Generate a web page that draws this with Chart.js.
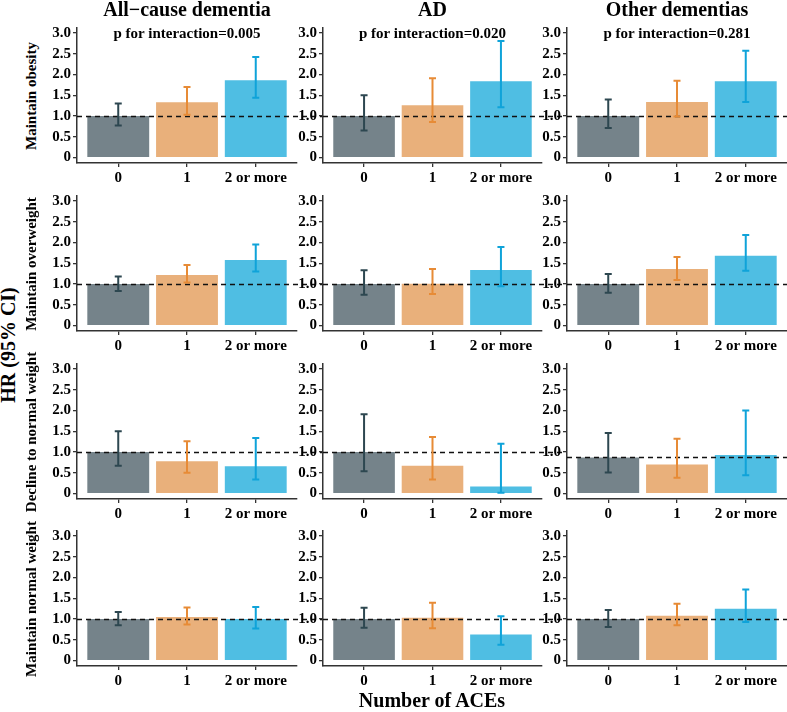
<!DOCTYPE html>
<html><head><meta charset="utf-8">
<script src="https://cdn.jsdelivr.net/npm/chart.js@4/dist/chart.umd.min.js"></script>
<style>
html,body{margin:0;padding:0;background:#fff;}
#fig{position:relative;width:787px;height:712px;overflow:hidden;font-family:"Liberation Serif","Times New Roman",serif;font-weight:bold;color:#000;}
.t{position:absolute;white-space:nowrap;transform:translate(-50%,-50%);line-height:1;}
.r{transform:translate(-50%,-50%) rotate(-90deg);}
canvas{position:absolute;}
</style></head><body><div id="fig"></div>
<script>
const categories = ['0','1','2 or more'];
const outcomes = ['All\u2212cause dementia','AD','Other dementias'];
const pLabels = ['p for interaction=0.005','p for interaction=0.020','p for interaction=0.281'];
const groups = ['Maintain obesity','Maintain overweight','Decline to normal weight','Maintain normal weight'];
const yTitle = 'HR (95% CI)';
const xTitle = 'Number of ACEs';
const yTicks = [0,0.5,1,1.5,2,2.5,3];
// each: one row per outcome (All-cause, AD, Other), one value per ACE category
const obesityHR = [[1.00,1.33,1.86],[1.00,1.26,1.84],[1.00,1.34,1.84]];
const obesityLo = [[0.77,1.03,1.44],[0.65,0.86,1.21],[0.71,0.99,1.34]];
const obesityHi = [[1.30,1.70,2.42],[1.50,1.91,2.81],[1.40,1.85,2.57]];
const overweightHR = [[1.00,1.22,1.58],[1.00,1.01,1.34],[1.00,1.36,1.68]];
const overweightLo = [[0.83,1.04,1.30],[0.74,0.76,0.95],[0.79,1.10,1.32]];
const overweightHi = [[1.18,1.46,1.95],[1.33,1.36,1.89],[1.24,1.65,2.18]];
const declineHR = [[1.00,0.78,0.66],[1.00,0.67,0.17],[0.87,0.70,0.93]];
const declineLo = [[0.67,0.50,0.34],[0.54,0.34,0.02],[0.51,0.38,0.44]];
const declineHi = [[1.50,1.26,1.34],[1.91,1.36,1.20],[1.46,1.32,2.00]];
const normalHR = [[1.00,1.05,1.00],[1.00,1.03,0.63],[1.00,1.08,1.25]];
const normalLo = [[0.85,0.87,0.77],[0.79,0.78,0.38],[0.81,0.85,0.93]];
const normalHi = [[1.17,1.28,1.29],[1.27,1.39,1.07],[1.22,1.37,1.71]];
const refLine = [[1,1,1],[1,1,1],[1,1,0.87],[1,1,1]];

const rowsHR = [obesityHR, overweightHR, declineHR, normalHR];
const rowsLo = [obesityLo, overweightLo, declineLo, normalLo];
const rowsHi = [obesityHi, overweightHi, declineHi, normalHi];

const barColors = ['#75838a','#e9b07b','#4fbee3'];
const errColors = ['#2d4750','#e78b36','#0fa3d9'];
const FONT = '"Liberation Serif","Times New Roman",serif';

const axisX = [77,323,567];
const plotRight = [297,542,787];
const rowTop = [28,196,364,531];
const plotH = 135;
const YW = 32, XH = 24, PADT = 10;

const fig = document.getElementById('fig');
function addText(txt, x, y, size, rot){
  const d = document.createElement('div');
  d.className = 't' + (rot ? ' r' : '');
  d.style.left = x + 'px'; d.style.top = y + 'px';
  d.style.fontSize = size + 'px';
  d.textContent = txt;
  fig.appendChild(d);
}

const overlay = {
  id:'overlay',
  afterDatasetsDraw(chart){
    const o = chart.options.plugins.overlay;
    const ctx = chart.ctx, xs = chart.scales.x, ys = chart.scales.y, ca = chart.chartArea;
    ctx.save();
    ctx.setLineDash([5,4]);
    ctx.lineWidth = 1.3;
    ctx.strokeStyle = '#111';
    const yr = Math.round(ys.getPixelForValue(o.ref)) + 0.5;
    ctx.beginPath(); ctx.moveTo(ca.left, yr); ctx.lineTo(chart.width, yr); ctx.stroke();
    ctx.setLineDash([]);
    ctx.lineWidth = 2;
    for (let i = 0; i < o.lo.length; i++){
      const x = xs.getPixelForValue(i);
      const y1 = ys.getPixelForValue(o.lo[i]);
      const y2 = ys.getPixelForValue(o.hi[i]);
      ctx.strokeStyle = errColors[i];
      ctx.beginPath();
      ctx.moveTo(x, y1); ctx.lineTo(x, y2);
      ctx.moveTo(x-3.5, y1); ctx.lineTo(x+3.5, y1);
      ctx.moveTo(x-3.5, y2); ctx.lineTo(x+3.5, y2);
      ctx.stroke();
    }
    ctx.restore();
  }
};

for (let r = 0; r < 4; r++){
  for (let c = 0; c < 3; c++){
    const left = axisX[c] - YW;
    const rightEdge = c < 2 ? axisX[c+1] : 787;
    const top = rowTop[r] - PADT;
    const cv = document.createElement('canvas');
    const w = rightEdge - left, h = PADT + plotH + XH;
    cv.width = w; cv.height = h;
    cv.style.left = left + 'px'; cv.style.top = top + 'px';
    cv.style.width = w + 'px'; cv.style.height = h + 'px';
    fig.appendChild(cv);
    const hr = rowsHR[r][c];
    new Chart(cv, {
      type:'bar',
      data:{datasets:[{
        data: hr.map((v,i)=>({x:i, y:v})),
        backgroundColor: barColors,
        borderWidth:0,
        categoryPercentage:1,
        barPercentage:0.9
      }]},
      options:{
        responsive:false, animation:false, devicePixelRatio:1,
        layout:{padding:{top:PADT, left:0, bottom:0, right: rightEdge - plotRight[c]}},
        plugins:{
          legend:{display:false}, tooltip:{enabled:false},
          overlay:{ref: refLine[r][c], lo: rowsLo[r][c], hi: rowsHi[r][c]}
        },
        scales:{
          x:{
            type:'linear', min:-0.6, max:2.6, offset:false,
            afterBuildTicks: s => { s.ticks = [0,1,2].map(v=>({value:v})); },
            ticks:{callback: v => categories[v], font:{family:FONT, size:15, weight:'bold'}, color:'#000', padding:2, maxRotation:0, autoSkip:false},
            grid:{offset:false, drawOnChartArea:false, drawTicks:true, tickLength:4, color:'#333', lineWidth:1.3},
            border:{display:true, color:'#333', width:1.5},
            afterFit: s => { s.height = XH; s.paddingLeft = 0; s.paddingRight = 0; }
          },
          y:{
            type:'linear', min:-0.13, max:3.12,
            afterBuildTicks: s => { s.ticks = yTicks.map(v=>({value:v})); },
            ticks:{callback: v => v === 0 ? '0' : Number(v).toFixed(1), font:{family:FONT, size:15, weight:'bold'}, color:'#000', padding:2},
            grid:{drawOnChartArea:false, drawTicks:true, tickLength:4, color:'#333', lineWidth:1.3},
            border:{display:true, color:'#333', width:1.5},
            afterFit: s => { s.width = YW; s.paddingTop = 0; s.paddingBottom = 0; }
          }
        }
      },
      plugins:[overlay]
    });
  }
}

for (let c = 0; c < 3; c++){
  const cx = (axisX[c] + plotRight[c]) / 2;
  addText(outcomes[c], cx, 9, 20);
  addText(pLabels[c], cx, 33, 15);
}
for (let r = 0; r < 4; r++){
  addText(groups[r], 31, rowTop[r] + plotH/2, 15, true);
}
addText(yTitle, 8, 345, 20, true);
addText(xTitle, 432, 700, 20);
</script>
</body></html>
